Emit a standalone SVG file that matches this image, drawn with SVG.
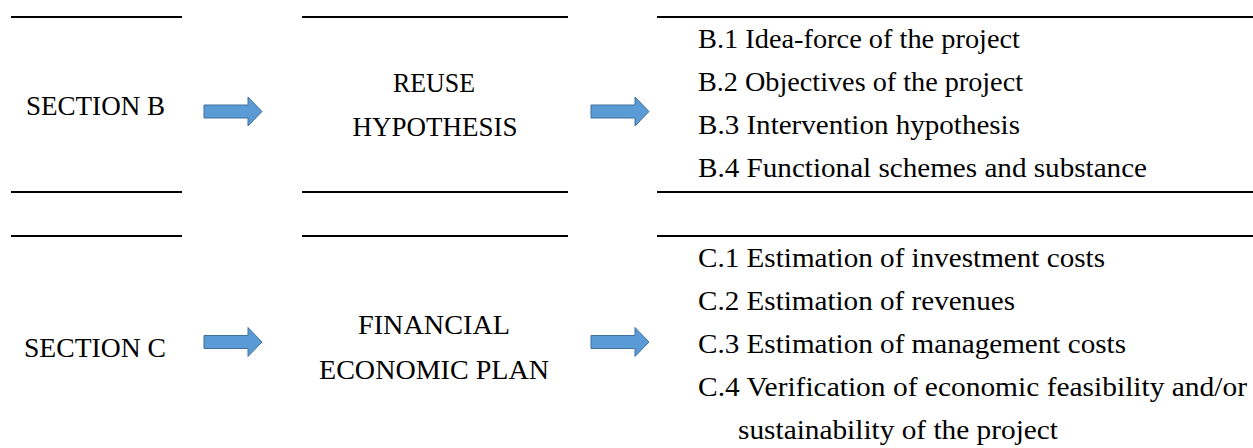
<svg xmlns="http://www.w3.org/2000/svg" width="1253" height="448" viewBox="0 0 1253 448">
<style>
text{font-family:"Liberation Serif","Times New Roman",serif;font-size:27px;fill:#000}
.c{text-anchor:middle}
.rule{stroke:#000;stroke-width:2;fill:none}
.arr{fill:#5b9bd5;stroke:#41719c;stroke-width:1}
</style>
<defs>
<path id="arrow" class="arr" d="M0,-6.5 H44 V-14.5 L58,0 L44,14.5 V6.5 H0 Z"/>
</defs>
<g id="rules">
<line class="rule" x1="11" y1="17" x2="182" y2="17"/>
<line class="rule" x1="302" y1="17" x2="568" y2="17"/>
<line class="rule" x1="657" y1="17" x2="1253" y2="17"/>
<line class="rule" x1="11" y1="192" x2="182" y2="192"/>
<line class="rule" x1="302" y1="192" x2="568" y2="192"/>
<line class="rule" x1="657" y1="192" x2="1253" y2="192"/>
<line class="rule" x1="11" y1="236" x2="182" y2="236"/>
<line class="rule" x1="302" y1="236" x2="568" y2="236"/>
<line class="rule" x1="657" y1="236" x2="1253" y2="236"/>
</g>
<g id="section-b"><text x="26" y="115" textLength="139" lengthAdjust="spacingAndGlyphs">SECTION B</text></g>
<g id="reuse-hypothesis">
<text class="c" x="434" y="92" textLength="82" lengthAdjust="spacingAndGlyphs">REUSE</text>
<text class="c" x="435" y="136" textLength="165" lengthAdjust="spacingAndGlyphs">HYPOTHESIS</text>
</g>
<g id="b-list">
<text x="698" y="48" textLength="322" lengthAdjust="spacingAndGlyphs">B.1 Idea-force of the project</text>
<text x="698" y="91" textLength="325" lengthAdjust="spacingAndGlyphs">B.2 Objectives of the project</text>
<text x="698" y="134" textLength="322" lengthAdjust="spacingAndGlyphs">B.3 Intervention hypothesis</text>
<text x="698" y="177" textLength="449" lengthAdjust="spacingAndGlyphs">B.4 Functional schemes and substance</text>
</g>
<g id="section-c"><text x="24" y="357" textLength="142" lengthAdjust="spacingAndGlyphs">SECTION C</text></g>
<g id="financial-plan">
<text class="c" x="434" y="334" textLength="152" lengthAdjust="spacingAndGlyphs">FINANCIAL</text>
<text class="c" x="434" y="379" textLength="230" lengthAdjust="spacingAndGlyphs">ECONOMIC PLAN</text>
</g>
<g id="c-list">
<text x="698" y="267" textLength="407" lengthAdjust="spacingAndGlyphs">C.1 Estimation of investment costs</text>
<text x="698" y="310" textLength="317" lengthAdjust="spacingAndGlyphs">C.2 Estimation of revenues</text>
<text x="698" y="353" textLength="428" lengthAdjust="spacingAndGlyphs">C.3 Estimation of management costs</text>
<text x="698" y="396" textLength="549" lengthAdjust="spacingAndGlyphs">C.4 Verification of economic feasibility and/or</text>
<text x="738" y="439" textLength="320" lengthAdjust="spacingAndGlyphs">sustainability of the project</text>
</g>
<g id="connectors">
<use href="#arrow" x="204" y="111.5"/>
<use href="#arrow" x="591" y="111.5"/>
<use href="#arrow" x="204" y="342"/>
<use href="#arrow" x="591" y="342"/>
</g>
</svg>
